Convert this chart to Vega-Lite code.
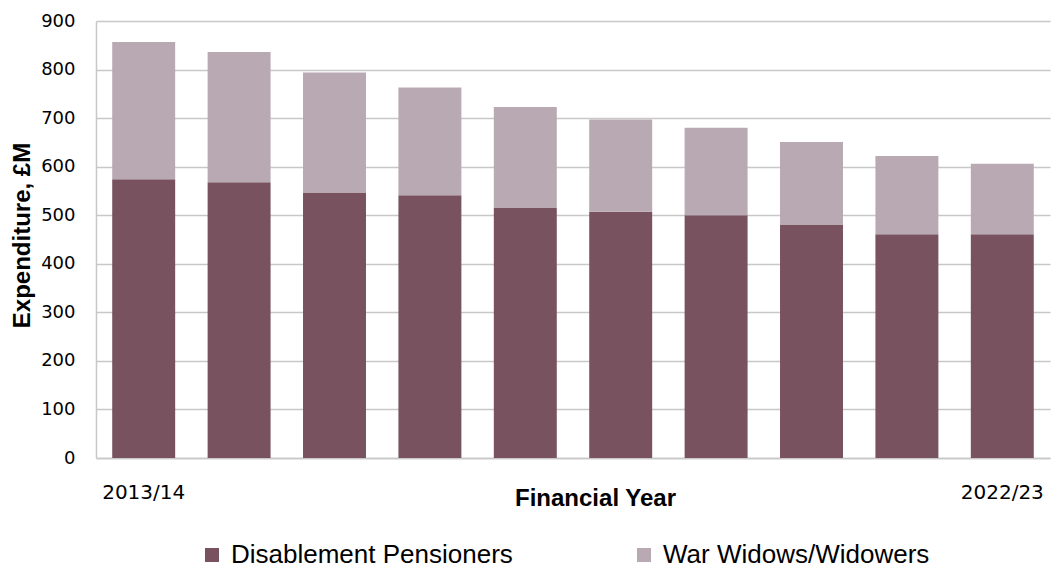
{
  "$schema": "https://vega.github.io/schema/vega-lite/v6.json",
  "autosize": {"type": "none"},
  "width": 954,
  "height": 437,
  "padding": {"left": 96, "top": 21, "right": 5, "bottom": 110},
  "background": "white",
  "config": {
    "view": {"stroke": null},
    "axis": {"gridColor": "#c8c8c8", "gridWidth": 1.5, "domainColor": "#c8c8c8", "domainWidth": 1.5}
  },
  "data": {
    "values": [
      {"year": "2013/14", "series": "Disablement Pensioners", "value": 574},
      {"year": "2013/14", "series": "War Widows/Widowers", "value": 283},
      {"year": "2014/15", "series": "Disablement Pensioners", "value": 568},
      {"year": "2014/15", "series": "War Widows/Widowers", "value": 268},
      {"year": "2015/16", "series": "Disablement Pensioners", "value": 547},
      {"year": "2015/16", "series": "War Widows/Widowers", "value": 247},
      {"year": "2016/17", "series": "Disablement Pensioners", "value": 541},
      {"year": "2016/17", "series": "War Widows/Widowers", "value": 222},
      {"year": "2017/18", "series": "Disablement Pensioners", "value": 516},
      {"year": "2017/18", "series": "War Widows/Widowers", "value": 207},
      {"year": "2018/19", "series": "Disablement Pensioners", "value": 507},
      {"year": "2018/19", "series": "War Widows/Widowers", "value": 190},
      {"year": "2019/20", "series": "Disablement Pensioners", "value": 500},
      {"year": "2019/20", "series": "War Widows/Widowers", "value": 180},
      {"year": "2020/21", "series": "Disablement Pensioners", "value": 480},
      {"year": "2020/21", "series": "War Widows/Widowers", "value": 171},
      {"year": "2021/22", "series": "Disablement Pensioners", "value": 461},
      {"year": "2021/22", "series": "War Widows/Widowers", "value": 161},
      {"year": "2022/23", "series": "Disablement Pensioners", "value": 461},
      {"year": "2022/23", "series": "War Widows/Widowers", "value": 145}
    ]
  },
  "mark": {"type": "bar"},
  "encoding": {
    "x": {
      "field": "year",
      "type": "ordinal",
      "scale": {"paddingInner": 0.34, "paddingOuter": 0.17},
      "axis": {
        "title": "Financial Year",
        "titleFont": "Liberation Sans",
        "titleFontSize": 24,
        "titleFontWeight": "bold",
        "titleColor": "black",
        "titleX": 499,
        "titleY": 47,
        "titleAlign": "center",
        "titleBaseline": "alphabetic",
        "labelAngle": 0,
        "labelFont": "DejaVu Sans",
        "labelFontSize": 20,
        "labelColor": "black",
        "labelPadding": 24,
        "labelExpr": "datum.value == '2013/14' || datum.value == '2022/23' ? datum.label : ''",
        "ticks": false,
        "tickSize": 0,
        "grid": false
      }
    },
    "y": {
      "field": "value",
      "type": "quantitative",
      "stack": "zero",
      "scale": {"domain": [0, 900], "nice": false},
      "axis": {
        "title": "Expenditure, £M",
        "titleFont": "Liberation Sans",
        "titleFontSize": 24,
        "titleFontWeight": "bold",
        "titleColor": "black",
        "titleAngle": -90,
        "titleX": -74,
        "titleY": 214,
        "titleAlign": "center",
        "titleBaseline": "middle",
        "values": [0, 100, 200, 300, 400, 500, 600, 700, 800, 900],
        "labelFont": "DejaVu Sans",
        "labelFontSize": 18,
        "labelColor": "black",
        "labelPadding": 21,
        "ticks": false,
        "tickSize": 0,
        "grid": true
      }
    },
    "color": {
      "field": "series",
      "type": "nominal",
      "scale": {
        "domain": ["Disablement Pensioners", "War Widows/Widowers"],
        "range": ["#78525e", "#b9a9b3"]
      },
      "legend": {
        "title": null,
        "orient": "none",
        "direction": "horizontal",
        "legendX": 103,
        "legendY": 521,
        "symbolType": "square",
        "symbolSize": 196,
        "symbolStrokeWidth": 0,
        "labelFont": "Liberation Sans",
        "labelFontSize": 26,
        "labelColor": "black",
        "labelOffset": 6,
        "labelLimit": 400,
        "columnPadding": 118
      }
    },
    "order": {"field": "series", "sort": "ascending"}
  }
}
